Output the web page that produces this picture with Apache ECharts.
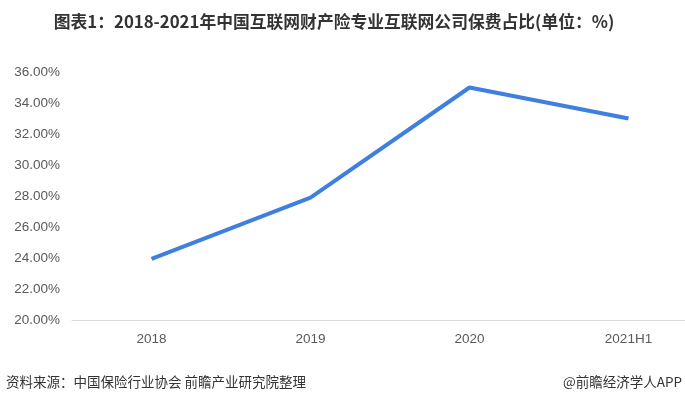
<!DOCTYPE html>
<html>
<head>
<meta charset="utf-8">
<script src="https://cdn.jsdelivr.net/npm/echarts@6/dist/echarts.min.js"></script>
<style>
  html, body { margin: 0; padding: 0; background: #fff; overflow: hidden; width: 685px; height: 403px; }
  /* plot runs past the right edge in the original, so the canvas is a bit wider */
  #chart { width: 708px; height: 403px; }
</style>
</head>
<body>
<div id="chart"></div>
<script>
const categories = ['2018', '2019', '2020', '2021H1']
const shareValues = [23.95, 27.9, 35.0, 33.0]
const yTicks = { min: 20, max: 36, interval: 2 }

const chart = echarts.init(document.getElementById('chart'))

const option = {
  animation: false,
  grid: {
    left: 72,
    right: 0,
    top: 72,
    bottom: 83
  },
  xAxis: {
    type: 'category',
    data: categories,
    axisLine: { lineStyle: { color: '#d9d9d9', width: 1 } },
    axisTick: { show: false },
    axisLabel: {
      color: '#595959',
      fontSize: 13.5,
      margin: 12,
      fontFamily: '"Liberation Sans", Arial, sans-serif'
    }
  },
  yAxis: {
    type: 'value',
    min: yTicks.min,
    max: yTicks.max,
    interval: yTicks.interval,
    axisLine: { show: false },
    axisTick: { show: false },
    splitLine: { show: false },
    axisLabel: {
      color: '#595959',
      fontSize: 13.5,
      margin: 12,
      fontFamily: '"Liberation Sans", Arial, sans-serif',
      formatter: v => v.toFixed(2) + '%'
    }
  },
  series: [{
    type: 'line',
    data: shareValues,
    showSymbol: false,
    lineStyle: { color: '#3f7fe0', width: 4 }
  }],
  graphic: [
    {
      type: 'text',
      x: 334,
      y: 22,
      style: {
        text: '图表1：2018-2021年中国互联网财产险专业互联网公司保费占比(单位：%)',
        fontSize: 16.8,
        fontWeight: 'bold',
        fill: '#333',
        align: 'center',
        verticalAlign: 'middle',
        fontFamily: '"Liberation Sans Narrow", "Noto Sans CJK SC", sans-serif'
      }
    },
    {
      type: 'text',
      x: 6,
      y: 382,
      style: {
        text: '资料来源：中国保险行业协会 前瞻产业研究院整理',
        fontSize: 13.5,
        fill: '#333',
        verticalAlign: 'middle',
        fontFamily: '"Noto Sans CJK SC", sans-serif'
      }
    },
    {
      type: 'text',
      x: 682,
      y: 382,
      style: {
        text: '@前瞻经济学人APP',
        fontSize: 13.5,
        fill: '#333',
        align: 'right',
        verticalAlign: 'middle',
        fontFamily: '"Noto Sans CJK SC", sans-serif'
      }
    }
  ]
}

chart.setOption(option)
</script>
</body>
</html>
